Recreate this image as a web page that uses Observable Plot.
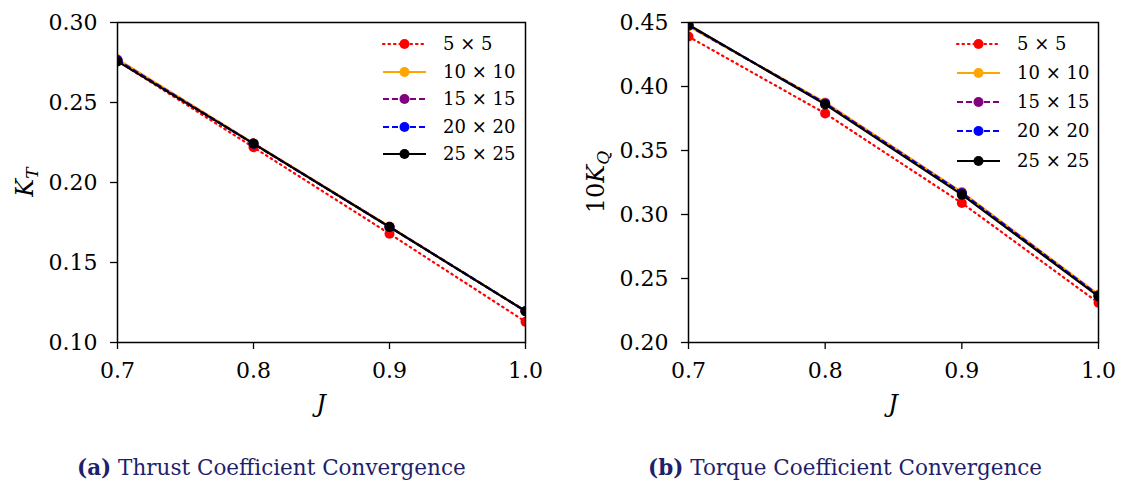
<!DOCTYPE html>
<html><head><meta charset="utf-8">
<script src="https://cdn.jsdelivr.net/npm/d3@7"></script>
<script src="https://cdn.jsdelivr.net/npm/@observablehq/plot@0.6"></script>
<style>
body{margin:0;background:#fff;font-family:"DejaVu Serif",serif;}
#wrap{display:flex;width:1124px;}
.panel{width:562px;}
.panel svg{display:block;}
.cap{margin-top:35px;font-size:21.5px;line-height:26px;color:#1f1f6b;font-family:"DejaVu Serif",serif;white-space:nowrap;}
.cap b{font-weight:bold;}
</style></head>
<body><div id="wrap"><div class="panel" id="p1"></div><div class="panel" id="p2"></div></div>
<script>
const J = [0.7, 0.8, 0.9, 1.0];
const seriesNames = ["5 × 5", "10 × 10", "15 × 15", "20 × 20", "25 × 25"];
const seriesColors = ["red", "orange", "purple", "blue", "black"];
const seriesDash = ["1.5,4", null, "6,3", "6,3", null];
const kt5  = [0.276, 0.222, 0.168, 0.113];
const kt10 = [0.277, 0.2245, 0.1725, 0.1195];
const kt15 = [0.2765, 0.2243, 0.1723, 0.1197];
const kt20 = [0.2762, 0.2242, 0.1722, 0.1196];
const kt25 = [0.2757, 0.2243, 0.1722, 0.1196];
const kq5  = [0.439, 0.379, 0.309, 0.231];
const kq10 = [0.447, 0.3875, 0.3175, 0.2375];
const kq15 = [0.4475, 0.387, 0.317, 0.237];
const kq20 = [0.4478, 0.3865, 0.3165, 0.2365];
const kq25 = [0.4482, 0.386, 0.3155, 0.236];
const xTicks = [0.7, 0.8, 0.9, 1.0];
const ktTicks = [0.10, 0.15, 0.20, 0.25, 0.30];
const kqTicks = [0.20, 0.25, 0.30, 0.35, 0.40, 0.45];

function panel(el, series, yDomain, yTicks, ml, mr, yLabelHtml, legendRows, legendX, caption, capLeft) {
  const marks = [];
  series.forEach((vals, i) => {
    const data = J.map((j, k) => ({j, v: vals[k]}));
    marks.push(Plot.line(data, {x: "j", y: "v", stroke: seriesColors[i], strokeWidth: 2.2, strokeDasharray: seriesDash[i], strokeLinecap: i === 0 ? "round" : "butt", clip: true}));
    marks.push(Plot.dot(data, {x: "j", y: "v", r: 5, fill: seriesColors[i], stroke: "none", clip: true}));
  });
  marks.push(Plot.axisX({ticks: xTicks, tickFormat: d3.format(".1f"), tickSize: 7, tickPadding: 13, stroke: "black", strokeWidth: 1.3, label: null}));
  marks.push(Plot.axisY({ticks: yTicks, tickFormat: d3.format(".2f"), tickSize: 7, tickPadding: 13, stroke: "black", strokeWidth: 1.3, label: null}));
  marks.push(Plot.frame({stroke: "black", strokeWidth: 1.5}));
  const svg = Plot.plot({
    width: 562, height: 420,
    marginLeft: ml, marginRight: mr, marginTop: 22, marginBottom: 78,
    x: {domain: [0.7, 1.0]},
    y: {domain: yDomain},
    style: {fontFamily: "DejaVu Serif, serif", color: "black", background: "white", overflow: "visible"},
    marks
  });
  const s = d3.select(svg);
  s.selectAll('[aria-label$="tick label"]').attr("font-size", 22);
  s.selectAll('[aria-label$="tick label"] text').style("font-size", "22px");
  const pw = 562 - ml - mr;
  s.append("text").attr("x", ml + pw / 2).attr("y", 412).attr("text-anchor", "middle")
    .attr("font-size", 24).attr("font-style", "italic").attr("font-family", "DejaVu Serif, serif").text("J");
  s.append("text").attr("transform", `translate(${ml - 84},182) rotate(-90)`).attr("text-anchor", "middle")
    .attr("font-size", 24).attr("font-family", "DejaVu Serif, serif").html(yLabelHtml);
  const g = s.append("g").attr("text-anchor", "start");
  seriesNames.forEach((name, i) => {
    const y = legendRows[i];
    g.append("line").attr("x1", legendX).attr("x2", legendX + 43).attr("y1", y).attr("y2", y)
      .attr("stroke", seriesColors[i]).attr("stroke-width", 2.2)
      .attr("stroke-dasharray", seriesDash[i]).attr("stroke-linecap", i === 0 ? "round" : "butt");
    g.append("circle").attr("cx", legendX + 21.5).attr("cy", y).attr("r", 5).attr("fill", seriesColors[i]);
    g.append("text").attr("x", legendX + 60).attr("y", y).attr("dy", "0.35em").attr("text-anchor", "start")
      .attr("font-size", 18).attr("font-family", "DejaVu Serif, serif").text(name);
  });
  el.appendChild(svg);
  const c = document.createElement("div");
  c.className = "cap";
  c.style.paddingLeft = capLeft + "px";
  c.innerHTML = caption;
  el.appendChild(c);
}

panel(document.getElementById("p1"), [kt5, kt10, kt15, kt20, kt25], [0.10, 0.30], ktTicks, 117, 37,
  '<tspan font-style="italic">K</tspan><tspan font-style="italic" font-size="17" dy="5">T</tspan>',
  [44, 72, 99, 127, 154], 383, "<b>(a)</b> Thrust Coefficient Convergence", 77);
panel(document.getElementById("p2"), [kq5, kq10, kq15, kq20, kq25], [0.20, 0.45], kqTicks, 126, 26,
  '10<tspan font-style="italic">K</tspan><tspan font-style="italic" font-size="17" dy="5">Q</tspan>',
  [44, 73, 102, 131, 161], 957 - 562, "<b>(b)</b> Torque Coefficient Convergence", 86);
</script></body></html>
